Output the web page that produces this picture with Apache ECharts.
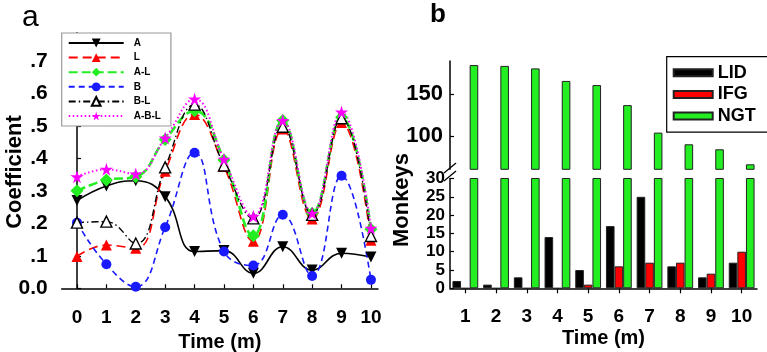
<!DOCTYPE html>
<html><head><meta charset="utf-8">
<script src="https://cdn.jsdelivr.net/npm/echarts@6/dist/echarts.min.js"></script>
<style>html,body{margin:0;padding:0;background:#fff}#c{width:767px;height:352px}</style>
</head><body><div id="c"></div>
<script>
// ---- Panel a data ----
const timeA = [0, 1, 2, 3, 4, 5, 6, 7, 8, 9, 10];
const seriesA   = [0.27, 0.315, 0.331, 0.282, 0.113, 0.116, 0.046, 0.128, 0.056, 0.108, 0.096];
const seriesL   = [0.098, 0.133, 0.123, 0.36, 0.535, 0.375, 0.145, 0.49, 0.213, 0.51, 0.148];
const seriesAL  = [0.3, 0.333, 0.343, 0.458, 0.546, 0.395, 0.162, 0.516, 0.231, 0.526, 0.182];
const seriesB   = [0.202, 0.074, 0.005, 0.188, 0.417, 0.113, 0.07, 0.226, 0.038, 0.346, 0.026];
const seriesBL  = [0.202, 0.205, 0.138, 0.372, 0.565, 0.378, 0.215, 0.497, 0.226, 0.523, 0.161];
const seriesABL = [0.343, 0.366, 0.352, 0.462, 0.582, 0.397, 0.222, 0.516, 0.231, 0.542, 0.185];
const yTickValuesA = [0, 0.1, 0.2, 0.3, 0.4, 0.5, 0.6, 0.7];
const yTickLabelsA = ['0.0', '.1', '.2', '.3', '.4', '.5', '.6', '.7'];

// ---- Panel b data ----
const timeB = ['1', '2', '3', '4', '5', '6', '7', '8', '9', '10'];
const LID = [2, 1, 3, 14, 5, 17, 25, 6, 3, 7];
const IFG = [0, 0, 0, 0, 1, 6, 7, 7, 4, 10];
const NGT = [185, 184, 181, 166, 161, 137, 104, 90, 84, 66];
const lowerTicksB = [0, 5, 10, 15, 20, 25, 30];
const upperTicksB = [100, 150];

const FONT = '"Liberation Sans", Arial, sans-serif';
const STAR = 'path://M50,0 L61,35 L98,35 L68,57 L79,91 L50,70 L21,91 L32,57 L2,35 L39,35 Z';
const pair = (ys) => ys.map((v, i) => [timeA[i], v]);

const chart = echarts.init(document.getElementById('c'), null, {renderer: 'canvas'});

function lineSeries(name, data, color, type, width, symbol, size, extra) {
  return Object.assign({
    name, type: 'line', xAxisIndex: 0, yAxisIndex: 0,
    data: pair(data), smooth: 0.45, symbol, symbolSize: size,
    lineStyle: {color, width, type},
    itemStyle: {color, borderColor: color, borderWidth: 0},
    emphasis: {disabled: true}, animation: false
  }, extra || {});
}

const barBorder = {borderColor: '#222', borderWidth: 1};
const barCommon = {type: 'bar', barWidth: 8.6, barGap: '0%', animation: false, emphasis: {disabled: true}};

const option = {
  backgroundColor: '#fff',
  animation: false,
  textStyle: {fontFamily: FONT},
  grid: [
    {left: 61.7, top: 32.8, width: 316.3, height: 255.5, containLabel: false, outerBoundsMode: 'none'},
    {left: 450, top: 178.5, width: 307, height: 109.8, containLabel: false, outerBoundsMode: 'none'},
    {left: 450, top: 60.9, width: 307, height: 108.4, containLabel: false, outerBoundsMode: 'none'}
  ],
  xAxis: [
    {gridIndex: 0, type: 'value', min: -0.52, max: 10.24,
     axisLine: {show: true, lineStyle: {color: '#000', width: 1.5}},
     axisTick: {show: true, inside: true, length: 4, customValues: timeA, lineStyle: {color: '#000', width: 1.2}},
     axisLabel: {show: true, customValues: timeA, margin: 20, color: '#000', fontSize: 19, fontWeight: 'bold', fontFamily: FONT},
     splitLine: {show: false},
     name: 'Time (m)', nameLocation: 'middle', nameGap: 39,
     nameTextStyle: {color: '#000', fontSize: 20, fontWeight: 'bold', fontFamily: FONT}},
    {gridIndex: 1, type: 'category', data: timeB, boundaryGap: true,
     axisLine: {show: true, lineStyle: {color: '#000', width: 1.5}},
     axisTick: {show: true, alignWithLabel: true, inside: false, length: 5, lineStyle: {color: '#000', width: 1.2}},
     axisLabel: {show: true, margin: 19, interval: 0, color: '#000', fontSize: 19, fontWeight: 'bold', fontFamily: FONT},
     splitLine: {show: false},
     name: 'Time (m)', nameLocation: 'middle', nameGap: 40,
     nameTextStyle: {color: '#000', fontSize: 20, fontWeight: 'bold', fontFamily: FONT}},
    {gridIndex: 2, type: 'category', data: timeB, boundaryGap: true, show: false}
  ],
  yAxis: [
    {gridIndex: 0, type: 'value', min: 0, max: 0.786,
     axisLine: {show: true, lineStyle: {color: '#000', width: 1.5}},
     axisTick: {show: true, inside: true, length: 4, customValues: yTickValuesA, lineStyle: {color: '#000', width: 1.2}},
     axisLabel: {show: true, customValues: yTickValuesA, margin: 14,
       formatter: (v) => yTickLabelsA[yTickValuesA.findIndex(t => Math.abs(t - v) < 1e-6)] || '',
       color: '#000', fontSize: 21, fontWeight: 'bold', fontFamily: FONT},
     splitLine: {show: false}},
    {gridIndex: 1, type: 'value', min: 0, max: 30, interval: 5,
     axisLine: {show: true, lineStyle: {color: '#000', width: 1.5}},
     axisTick: {show: true, inside: true, length: 4, customValues: lowerTicksB, lineStyle: {color: '#000', width: 1.2}},
     axisLabel: {show: true, margin: 5, customValues: lowerTicksB, showMinLabel: true, showMaxLabel: true, hideOverlap: false,
       color: '#000', fontSize: 17, lineHeight: 12, fontWeight: 'bold', fontFamily: FONT},
     splitLine: {show: false}},
    {gridIndex: 2, type: 'value', min: 60, max: 190,
     axisLine: {show: true, lineStyle: {color: '#000', width: 1.5}},
     axisTick: {show: true, inside: true, length: 4, customValues: upperTicksB, lineStyle: {color: '#000', width: 1.2}},
     axisLabel: {show: true, margin: 7, customValues: upperTicksB, color: '#000', fontSize: 22, fontWeight: 'bold', fontFamily: FONT},
     splitLine: {show: false}}
  ],
  legend: [
    {data: ['A', 'L', 'A-L', 'B', 'B-L', 'A-B-L'], orient: 'vertical', left: 61.7, top: 33,
     padding: [4, 10, 4, 6], itemGap: 2.6, itemWidth: 55, itemHeight: 11,
     backgroundColor: '#fff', borderColor: '#999', borderWidth: 1.2,
     textStyle: {color: '#000', fontSize: 10, fontWeight: 'bold', fontFamily: FONT, lineHeight: 12, padding: [0, 0, 0, 5]},
     selectedMode: false},
    {data: ['LID', 'IFG', 'NGT'], orient: 'vertical', left: 666.7, top: 56.7,
     padding: [7, 12, 7, 6], itemGap: 3.7, itemWidth: 39, itemHeight: 7, icon: 'rect',
     backgroundColor: '#fff', borderColor: '#000', borderWidth: 1.2,
     textStyle: {color: '#000', fontSize: 18, fontWeight: 'bold', fontFamily: FONT, lineHeight: 18},
     selectedMode: false}
  ],
  series: [
    lineSeries('A', seriesA, '#000', 'solid', 1.6, 'triangle', 11, {symbolRotate: 180}),
    lineSeries('L', seriesL, '#ff0000', [9, 5], 1.6, 'triangle', 11),
    lineSeries('A-L', seriesAL, '#22ee22', [9, 4], 2.6, 'diamond', 13),
    lineSeries('B', seriesB, '#1a1aff', [6, 4], 1.6, 'circle', 10),
    lineSeries('B-L', seriesBL, '#000', [7, 3, 1.5, 3], 1.4, 'triangle', 11,
      {itemStyle: {color: '#fff', borderColor: '#000', borderWidth: 1.4}}),
    lineSeries('A-B-L', seriesABL, '#ff00ff', [1.5, 2.5], 2, STAR, 13),

    Object.assign({name: 'LID', xAxisIndex: 1, yAxisIndex: 1, data: LID,
      itemStyle: Object.assign({color: '#000'}, barBorder)}, barCommon),
    Object.assign({name: 'IFG', xAxisIndex: 1, yAxisIndex: 1, data: IFG,
      itemStyle: Object.assign({color: '#ff0000'}, barBorder)}, barCommon),
    Object.assign({name: 'NGT', xAxisIndex: 1, yAxisIndex: 1, data: NGT,
      itemStyle: Object.assign({color: '#22ee22'}, barBorder)}, barCommon),

    Object.assign({name: 'LID', xAxisIndex: 2, yAxisIndex: 2, data: LID.map(() => null),
      itemStyle: Object.assign({color: '#000'}, barBorder)}, barCommon),
    Object.assign({name: 'IFG', xAxisIndex: 2, yAxisIndex: 2, data: IFG.map(() => null),
      itemStyle: Object.assign({color: '#ff0000'}, barBorder)}, barCommon),
    Object.assign({name: 'NGT', xAxisIndex: 2, yAxisIndex: 2, data: NGT,
      itemStyle: Object.assign({color: '#22ee22'}, barBorder)}, barCommon)
  ],
  graphic: [
    {type: 'text', x: 22, y: 3, style: {text: 'a', fill: '#000', fontSize: 30, fontFamily: FONT, align: 'left', verticalAlign: 'top'}},
    {type: 'text', x: 430, y: 2, style: {text: 'b', fill: '#000', fontSize: 26, fontWeight: 'bold', fontFamily: FONT, align: 'left', verticalAlign: 'top'}},
    {type: 'text', x: 15, y: 172, rotation: Math.PI / 2,
     style: {text: 'Coefficient', fill: '#000', fontSize: 22, fontWeight: 'bold', fontFamily: FONT, align: 'center', verticalAlign: 'middle'}},
    {type: 'text', x: 402, y: 200, rotation: Math.PI / 2,
     style: {text: 'Monkeys', fill: '#000', fontSize: 22, fontWeight: 'bold', fontFamily: FONT, align: 'center', verticalAlign: 'middle'}},
    {type: 'line', shape: {x1: 444, y1: 173, x2: 456, y2: 163}, style: {stroke: '#000', lineWidth: 1.3}},
    {type: 'line', shape: {x1: 444, y1: 181, x2: 456, y2: 171}, style: {stroke: '#000', lineWidth: 1.3}}
  ]
};
chart.setOption(option);
</script></body></html>
